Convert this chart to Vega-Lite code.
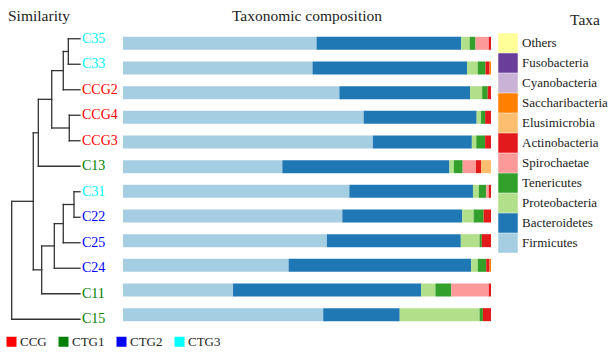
{
  "$schema": "https://vega.github.io/schema/vega-lite/v6.json",
  "background": "white",
  "padding": {"left": 5, "top": 8, "right": 0, "bottom": 0},
  "spacing": 0,
  "bounds": "flush",
  "title": {"text": "Taxa", "anchor": "end", "dx": -8, "dy": 20, "offset": 0, "font": "Liberation Serif", "fontSize": 15.5, "fontWeight": "normal", "color": "#222222"},
  "config": {
    "view": {"stroke": null},
    "font": "Liberation Serif",
    "title": {"font": "Liberation Serif", "fontSize": 15.5, "fontWeight": "normal", "color": "#222222"}
  },
  "datasets": {
    "samples": [
      {"sample": "C35", "row": 1, "group": "CTG3"},
      {"sample": "C33", "row": 2, "group": "CTG3"},
      {"sample": "CCG2", "row": 3, "group": "CCG"},
      {"sample": "CCG4", "row": 4, "group": "CCG"},
      {"sample": "CCG3", "row": 5, "group": "CCG"},
      {"sample": "C13", "row": 6, "group": "CTG1"},
      {"sample": "C31", "row": 7, "group": "CTG3"},
      {"sample": "C22", "row": 8, "group": "CTG2"},
      {"sample": "C25", "row": 9, "group": "CTG2"},
      {"sample": "C24", "row": 10, "group": "CTG2"},
      {"sample": "C11", "row": 11, "group": "CTG1"},
      {"sample": "C15", "row": 12, "group": "CTG1"}
    ],
    "taxa": [
      {"taxon": "Firmicutes", "rank": 1},
      {"taxon": "Bacteroidetes", "rank": 2},
      {"taxon": "Proteobacteria", "rank": 3},
      {"taxon": "Tenericutes", "rank": 4},
      {"taxon": "Spirochaetae", "rank": 5},
      {"taxon": "Actinobacteria", "rank": 6},
      {"taxon": "Elusimicrobia", "rank": 7},
      {"taxon": "Saccharibacteria", "rank": 8},
      {"taxon": "Cyanobacteria", "rank": 9},
      {"taxon": "Fusobacteria", "rank": 10},
      {"taxon": "Others", "rank": 11}
    ],
    "tree": [
      {"h": 0.171, "h2": 0.171, "y": 1, "y2": 2},
      {"h": 0.245, "h2": 0.245, "y": 1.5, "y2": 3},
      {"h": 0.157, "h2": 0.157, "y": 4, "y2": 5},
      {"h": 0.414, "h2": 0.414, "y": 2.25, "y2": 4.5},
      {"h": 0.61, "h2": 0.61, "y": 3.375, "y2": 6},
      {"h": 0.088, "h2": 0.088, "y": 7, "y2": 8},
      {"h": 0.245, "h2": 0.245, "y": 7.5, "y2": 9},
      {"h": 0.376, "h2": 0.376, "y": 8.25, "y2": 10},
      {"h": 0.561, "h2": 0.561, "y": 9.125, "y2": 11},
      {"h": 0.684, "h2": 0.684, "y": 4.6875, "y2": 10.0625},
      {"h": 1, "h2": 1, "y": 7.375, "y2": 12},
      {"h": 0, "h2": 0.171, "y": 1, "y2": 1},
      {"h": 0, "h2": 0.171, "y": 2, "y2": 2},
      {"h": 0.171, "h2": 0.245, "y": 1.5, "y2": 1.5},
      {"h": 0, "h2": 0.245, "y": 3, "y2": 3},
      {"h": 0, "h2": 0.157, "y": 4, "y2": 4},
      {"h": 0, "h2": 0.157, "y": 5, "y2": 5},
      {"h": 0.245, "h2": 0.414, "y": 2.25, "y2": 2.25},
      {"h": 0.157, "h2": 0.414, "y": 4.5, "y2": 4.5},
      {"h": 0.414, "h2": 0.61, "y": 3.375, "y2": 3.375},
      {"h": 0, "h2": 0.61, "y": 6, "y2": 6},
      {"h": 0.61, "h2": 0.684, "y": 4.6875, "y2": 4.6875},
      {"h": 0, "h2": 0.088, "y": 7, "y2": 7},
      {"h": 0, "h2": 0.088, "y": 8, "y2": 8},
      {"h": 0.088, "h2": 0.245, "y": 7.5, "y2": 7.5},
      {"h": 0, "h2": 0.245, "y": 9, "y2": 9},
      {"h": 0.245, "h2": 0.376, "y": 8.25, "y2": 8.25},
      {"h": 0, "h2": 0.376, "y": 10, "y2": 10},
      {"h": 0.376, "h2": 0.561, "y": 9.125, "y2": 9.125},
      {"h": 0, "h2": 0.561, "y": 11, "y2": 11},
      {"h": 0.561, "h2": 0.684, "y": 10.0625, "y2": 10.0625},
      {"h": 0.684, "h2": 1, "y": 7.375, "y2": 7.375},
      {"h": 0, "h2": 1, "y": 12, "y2": 12}
    ],
    "bars": [
      {"sample": "C35", "taxon": "Firmicutes", "pct": 52.6},
      {"sample": "C35", "taxon": "Bacteroidetes", "pct": 39.3},
      {"sample": "C35", "taxon": "Proteobacteria", "pct": 2.3},
      {"sample": "C35", "taxon": "Tenericutes", "pct": 1.6},
      {"sample": "C35", "taxon": "Spirochaetae", "pct": 3.6},
      {"sample": "C35", "taxon": "Actinobacteria", "pct": 0.6},
      {"sample": "C33", "taxon": "Firmicutes", "pct": 51.5},
      {"sample": "C33", "taxon": "Bacteroidetes", "pct": 42.0},
      {"sample": "C33", "taxon": "Proteobacteria", "pct": 2.9},
      {"sample": "C33", "taxon": "Tenericutes", "pct": 2.1},
      {"sample": "C33", "taxon": "Actinobacteria", "pct": 1.1},
      {"sample": "C33", "taxon": "Saccharibacteria", "pct": 0.4},
      {"sample": "CCG2", "taxon": "Firmicutes", "pct": 58.8},
      {"sample": "CCG2", "taxon": "Bacteroidetes", "pct": 35.5},
      {"sample": "CCG2", "taxon": "Proteobacteria", "pct": 3.3},
      {"sample": "CCG2", "taxon": "Tenericutes", "pct": 1.5},
      {"sample": "CCG2", "taxon": "Actinobacteria", "pct": 0.9},
      {"sample": "CCG4", "taxon": "Firmicutes", "pct": 65.4},
      {"sample": "CCG4", "taxon": "Bacteroidetes", "pct": 30.7},
      {"sample": "CCG4", "taxon": "Proteobacteria", "pct": 1.2},
      {"sample": "CCG4", "taxon": "Tenericutes", "pct": 1.1},
      {"sample": "CCG4", "taxon": "Actinobacteria", "pct": 1.6},
      {"sample": "CCG3", "taxon": "Firmicutes", "pct": 67.9},
      {"sample": "CCG3", "taxon": "Bacteroidetes", "pct": 26.9},
      {"sample": "CCG3", "taxon": "Proteobacteria", "pct": 1.2},
      {"sample": "CCG3", "taxon": "Tenericutes", "pct": 2.4},
      {"sample": "CCG3", "taxon": "Actinobacteria", "pct": 1.6},
      {"sample": "C13", "taxon": "Firmicutes", "pct": 43.3},
      {"sample": "C13", "taxon": "Bacteroidetes", "pct": 45.4},
      {"sample": "C13", "taxon": "Proteobacteria", "pct": 1.2},
      {"sample": "C13", "taxon": "Tenericutes", "pct": 2.4},
      {"sample": "C13", "taxon": "Spirochaetae", "pct": 3.6},
      {"sample": "C13", "taxon": "Actinobacteria", "pct": 1.4},
      {"sample": "C13", "taxon": "Elusimicrobia", "pct": 2.7},
      {"sample": "C31", "taxon": "Firmicutes", "pct": 61.5},
      {"sample": "C31", "taxon": "Bacteroidetes", "pct": 33.6},
      {"sample": "C31", "taxon": "Proteobacteria", "pct": 1.6},
      {"sample": "C31", "taxon": "Tenericutes", "pct": 2.0},
      {"sample": "C31", "taxon": "Spirochaetae", "pct": 0.7},
      {"sample": "C31", "taxon": "Actinobacteria", "pct": 0.6},
      {"sample": "C22", "taxon": "Firmicutes", "pct": 59.6},
      {"sample": "C22", "taxon": "Bacteroidetes", "pct": 32.6},
      {"sample": "C22", "taxon": "Proteobacteria", "pct": 3.1},
      {"sample": "C22", "taxon": "Tenericutes", "pct": 2.7},
      {"sample": "C22", "taxon": "Actinobacteria", "pct": 2.0},
      {"sample": "C25", "taxon": "Firmicutes", "pct": 55.4},
      {"sample": "C25", "taxon": "Bacteroidetes", "pct": 36.4},
      {"sample": "C25", "taxon": "Proteobacteria", "pct": 5.1},
      {"sample": "C25", "taxon": "Tenericutes", "pct": 0.6},
      {"sample": "C25", "taxon": "Actinobacteria", "pct": 2.5},
      {"sample": "C24", "taxon": "Firmicutes", "pct": 45.0},
      {"sample": "C24", "taxon": "Bacteroidetes", "pct": 49.6},
      {"sample": "C24", "taxon": "Proteobacteria", "pct": 1.8},
      {"sample": "C24", "taxon": "Tenericutes", "pct": 2.3},
      {"sample": "C24", "taxon": "Actinobacteria", "pct": 0.9},
      {"sample": "C24", "taxon": "Saccharibacteria", "pct": 0.4},
      {"sample": "C11", "taxon": "Firmicutes", "pct": 29.9},
      {"sample": "C11", "taxon": "Bacteroidetes", "pct": 51.1},
      {"sample": "C11", "taxon": "Proteobacteria", "pct": 3.9},
      {"sample": "C11", "taxon": "Tenericutes", "pct": 4.3},
      {"sample": "C11", "taxon": "Spirochaetae", "pct": 10.2},
      {"sample": "C11", "taxon": "Actinobacteria", "pct": 0.6},
      {"sample": "C15", "taxon": "Firmicutes", "pct": 54.4},
      {"sample": "C15", "taxon": "Bacteroidetes", "pct": 20.8},
      {"sample": "C15", "taxon": "Proteobacteria", "pct": 21.7},
      {"sample": "C15", "taxon": "Tenericutes", "pct": 0.9},
      {"sample": "C15", "taxon": "Actinobacteria", "pct": 2.2}
    ]
  },
  "hconcat": [
    {
      "width": 113,
      "height": 306,
      "title": {"text": "Similarity", "anchor": "start", "offset": 2, "dx": 3},
      "layer": [
        {
          "data": {"name": "tree"},
          "mark": {"type": "rule", "color": "#333333", "strokeWidth": 1.3, "strokeCap": "square"},
          "encoding": {
            "x": {"field": "h", "type": "quantitative", "axis": null,
                  "scale": {"domain": [-0.6296, 1.0249], "reverse": true, "nice": false, "zero": false}},
            "x2": {"field": "h2"},
            "y": {"field": "y", "type": "quantitative", "axis": null,
                  "scale": {"domain": [0.5, 12.5], "reverse": true, "nice": false, "zero": false}},
            "y2": {"field": "y2"}
          }
        },
        {
          "data": {"name": "samples"},
          "mark": {"type": "text", "align": "left", "baseline": "middle", "dx": 2, "fontSize": 14, "font": "Liberation Serif"},
          "encoding": {
            "x": {"datum": 0, "type": "quantitative"},
            "y": {"field": "row", "type": "quantitative"},
            "text": {"field": "sample"},
            "color": {
              "field": "group", "type": "nominal",
              "scale": {"domain": ["CCG", "CTG1", "CTG2", "CTG3"], "range": ["#ff0000", "#008000", "#0000ff", "#00ffff"]},
              "legend": {
                "title": null, "orient": "none", "legendX": -5, "legendY": 309,
                "direction": "horizontal", "symbolType": "square", "symbolSize": 100,
                "symbolStrokeWidth": 0, "symbolOpacity": 1, "labelFont": "Liberation Serif", "labelFontSize": 13,
                "labelColor": "#222222", "labelOffset": 2, "columnPadding": 10
              }
            }
          }
        }
      ]
    },
    {
      "width": 368,
      "height": 306,
      "title": {"text": "Taxonomic composition", "anchor": "middle", "offset": 2},
      "data": {"name": "bars"},
      "transform": [
        {"lookup": "sample", "from": {"data": {"name": "samples"}, "key": "sample", "fields": ["row"]}},
        {"lookup": "taxon", "from": {"data": {"name": "taxa"}, "key": "taxon", "fields": ["rank"]}}
      ],
      "mark": {"type": "bar", "orient": "horizontal", "size": 13},
      "encoding": {
        "x": {"field": "pct", "type": "quantitative", "stack": "normalize", "axis": null,
              "scale": {"domain": [0, 1], "nice": false}},
        "y": {"field": "row", "type": "quantitative", "axis": null,
              "scale": {"domain": [0.5, 12.5], "reverse": true, "nice": false, "zero": false}},
        "order": {"field": "rank", "type": "quantitative"},
        "color": {
          "field": "taxon", "type": "nominal",
          "scale": {
            "domain": ["Others", "Fusobacteria", "Cyanobacteria", "Saccharibacteria", "Elusimicrobia", "Actinobacteria", "Spirochaetae", "Tenericutes", "Proteobacteria", "Bacteroidetes", "Firmicutes"],
            "range": ["#ffff99", "#6a3d9a", "#cab2d6", "#ff7f00", "#fdbf6f", "#e31a1c", "#fb9a99", "#33a02c", "#b2df8a", "#1f78b4", "#a6cee3"]
          },
          "legend": {
            "title": null, "orient": "none", "legendX": 375, "legendY": 7,
            "symbolType": "square", "symbolSize": 380, "symbolStrokeWidth": 0, "symbolOpacity": 1,
            "rowPadding": 0, "labelFont": "Liberation Serif", "labelFontSize": 13, "labelColor": "#222222",
            "labelOffset": 4
          }
        }
      }
    }
  ],
  "resolve": {
    "scale": {"color": "independent", "x": "independent", "y": "independent"},
    "legend": {"color": "independent"}
  }
}
